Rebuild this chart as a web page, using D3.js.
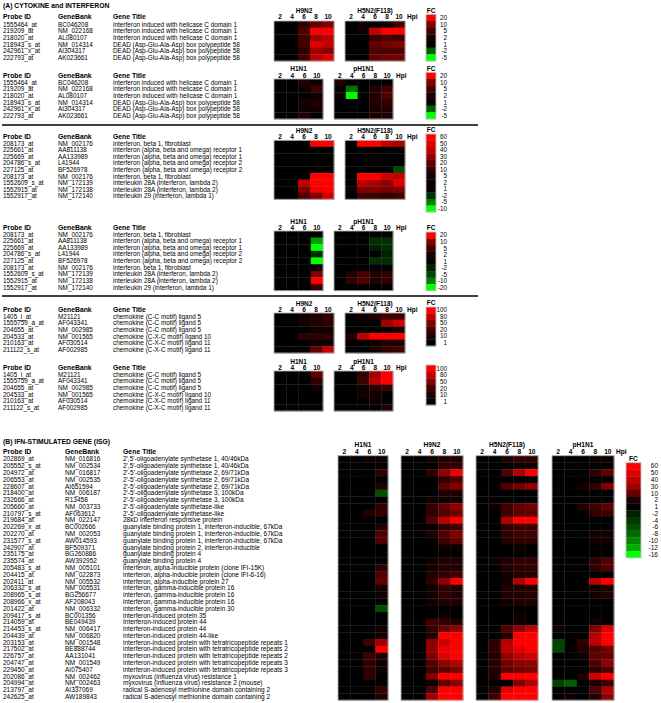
<!DOCTYPE html>
<html><head><meta charset="utf-8">
<script src="https://cdn.jsdelivr.net/npm/d3@7"></script>
<style>
body{margin:0;background:#fff}
svg{display:block}
text{font-family:"Liberation Sans",Arial,Helvetica,sans-serif;fill:#000}
</style>
</head><body>
<svg id="chart" width="661" height="703"></svg>
<script>
// ---------------- DATA ----------------
const hours5 = [2, 4, 6, 8, 10];
const hours4 = [2, 4, 6, 10];

// Block: helicase genes
const helProbes = ["1555464_at","219209_at","218020_at","218943_s_at","242961_x_at","222793_at"];
const helBanks  = ["BC046208","NM_022168","AL080107","NM_014314","AI304317","AK023661"];
const helTitles = ["interferon induced with helicase C domain 1","interferon induced with helicase C domain 1","Interferon induced with helicase C domain 1","DEAD (Asp-Glu-Ala-Asp) box polypeptide 58","DEAD (Asp-Glu-Ala-Asp) box polypeptide 58","DEAD (Asp-Glu-Ala-Asp) box polypeptide 58"];
const helH9N2 = [[1,1,3.8,7.5,10],[1,1,6.2,20,20],[1,1,5,12.5,15],[1,1,5,17.5,15],[1,1,3.8,12.5,11],[1,1,5,15,17.5]];
const helH5N2 = [[1,1.7,1,1.7,5],[1,1.7,15,20,20],[1,1,5,6.2,5],[1,1,7.5,8.8,10],[1,1,6.2,6.2,6.2],[1,1,7.5,8.8,8.8]];
const helH1N1 = [[1,1,2.6,1.7],[1,1,1.7,5],[1,1,1,1.7],[1,1,2,2.6],[1,1,1.7,1.7],[1,1,2.6,1]];
const helPH1N1 = [[2.6,1,1,1,1],[1,-2.3,1,2.6,5],[1.7,-5,1,2.6,6.2],[1,1,1,2.6,3.8],[1,1,1,2,2.6],[1,1,1,2,2.6]];
const legTicksHel = [20,10,5,2,1,-2,-5];

// Block: interferon genes
const ifnProbes = ["208173_at","225661_at","225669_at","204786_s_at","227125_at","208173_at","1552609_s_at","1552915_at","1552917_at"];
const ifnBanks  = ["NM_002176","AA811138","AA133989","L41944","BF526978","NM_002176","NM_172139","NM_172138","NM_172140"];
const ifnTitles = ["interferon, beta 1, fibroblast","interferon (alpha, beta and omega) receptor 1","interferon (alpha, beta and omega) receptor 1","interferon (alpha, beta and omega) receptor 2","Interferon (alpha, beta and omega) receptor 2","interferon, beta 1, fibroblast","interleukin 28A (interferon, lambda 2)","interleukin 28A (interferon, lambda 2)","interleukin 29 (interferon, lambda 1)"];
const ifnH9N2 = [[1,1,1,60,60],[1,1,1,1,1],[1,1,1,1,1],[1,1,1,1,1],[1,1,1,1,1],[1,1,1,60,60],[1,1,40,60,60],[1,1,27,55,60],[1,1,17,27,45]];
const ifnH5N2 = [[1,60,60,40,35],[1,1,1,1,1],[1,1,1,1,1],[1,1,1,1,1],[1,1,1,1,-3],[1,60,60,45,40],[1,40,35,30,50],[3,27,27,25,27],[1,13,13,10,13]];
const ifnH1N1 = [[1,1,1,1],[1,1,1,-12.5],[1,1,1,-20],[1,1,1,-3.5],[1,1,1,-20],[1,1,1,1],[1,1,1,10],[1,1,1,20],[1,1,1,5]];
const ifnPH1N1 = [[1,1,1,1,1],[1,1,1,-3.5,-3.5],[1,1,1,-2,-3.5],[1,1,1,1,-2],[1,1,1,-3.5,-3.5],[1,1,1,1,1],[1,2.8,5,2.8,3.9],[1,3.9,6.2,2.8,3.9],[1,1,1,1,1]];
const legTicksIfn1 = [60,50,40,30,20,10,5,2,1,-2,-5,-10];
const legTicksIfn2 = [20,10,5,2,1,-2,-5,-10,-20];

// Block: chemokines
const chemProbes = ["1405_i_at","1555759_a_at","204655_at","204533_at","210163_at","211122_s_at"];
const chemBanks  = ["M21121","AF043341","NM_002985","NM_001565","AF030514","AF002985"];
const chemTitles = ["chemokine (C-C motif) ligand 5","chemokine (C-C motif) ligand 5","chemokine (C-C motif) ligand 5","chemokine (C-X-C motif) ligand 10","chemokine (C-X-C motif) ligand 11","chemokine (C-X-C motif) ligand 11"];
const chemH9N2 = [[1,1,5.5,10,15],[1,1,5.5,10,15],[1,1,1,5.5,5.5],[1,1,15,15,15],[1,1,1,5.5,5.5],[1,1,1,35,80]];
const chemH5N2 = [[1,5.5,10,20,20],[1,1,1,65,85],[1,1,1,5.5,10],[10,80,100,100,100],[1,1,5.5,10,10],[1,1,5.5,15,20]];
const chemH1N1 = [[1,1,1,35],[1,1,1,15],[1,1,1,5.5],[1,1,1,1],[1,1,1,1],[1,1,1,1]];
const chemPH1N1 = [[1,1,15,65,100],[1,1,20,80,100],[1,1,5.5,15,20],[1,1,5.5,5.5,1],[1,1,1,5.5,1],[1,1,1,1,10]];
const legTicksChem = [100,80,50,20,10,1];

// Section B: ISG
const isgProbes = ["202869_at","205552_s_at","204972_at","206553_at","228607_at","218400_at","232666_at","205660_at","210797_s_at","219684_at","202269_x_at","202270_at","231577_s_at","242907_at","235175_at","235574_at","205483_s_at","204415_at","202411_at","206332_s_at","208965_s_at","208966_x_at","201422_at","209417_s_at","214059_at","214453_s_at","204439_at","203153_at","217502_at","226757_at","204747_at","229450_at","202086_at","204994_at","213797_at","242625_at"];
const isgBanks = ["NM_016816","NM_002534","NM_016817","NM_002535","AI651594","NM_006187","R13458","NM_003733","AF063612","NM_022147","BC002666","NM_002053","AW014593","BF509371","BG260886","AW392952","NM_005101","NM_022873","NM_005532","NM_005531","BG256677","AF208043","NM_006332","BC001356","BE049439","NM_006417","NM_006820","NM_001548","BE888744","AA131041","NM_001549","AI075407","NM_002462","NM_002463","AI337069","AW189843"];
const isgTitles = ["2',5'-oligoadenylate synthetase 1, 40/46kDa","2',5'-oligoadenylate synthetase 1, 40/46kDa","2'-5'-oligoadenylate synthetase 2, 69/71kDa","2'-5'-oligoadenylate synthetase 2, 69/71kDa","2'-5'-oligoadenylate synthetase 2, 69/71kDa","2'-5'-oligoadenylate synthetase 3, 100kDa","2'-5'-oligoadenylate synthetase 3, 100kDa","2'-5'-oligoadenylate synthetase-like","2'-5'-oligoadenylate synthetase-like","28kD interferon responsive protein","guanylate binding protein 1, interferon-inducible, 67kDa","guanylate binding protein 1, interferon-inducible, 67kDa","guanylate binding protein 1, interferon-inducible, 67kDa","guanylate binding protein 2, interferon-inducible","guanylate binding protein 4","guanylate binding protein 4","interferon, alpha-inducible protein (clone IFI-15K)","interferon, alpha-inducible protein (clone IFI-6-16)","interferon, alpha-inducible protein 27","interferon, gamma-inducible protein 16","interferon, gamma-inducible protein 16","interferon, gamma-inducible protein 16","interferon, gamma-inducible protein 30","interferon-induced protein 35","Interferon-induced protein 44","interferon-induced protein 44","interferon-induced protein 44-like","interferon-induced protein with tetratricopeptide repeats 1","interferon-induced protein with tetratricopeptide repeats 2","interferon-induced protein with tetratricopeptide repeats 2","interferon-induced protein with tetratricopeptide repeats 3","interferon-induced protein with tetratricopeptide repeats 3","myxovirus (influenza virus) resistance 1","myxovirus (influenza virus) resistance 2 (mouse)","radical S-adenosyl methionine domain containing 2","radical S-adenosyl methionine domain containing 2"];
const isgH1N1 = [[1,1,1.5,1.5],[1,1,1,1],[1,1,1,4],[1,1,1,1],[1,1,1,2],[1,1,1,-6],[1,1,1,1],[1,1,1,4],[1,1,2,4],[1,1,1,1],[1,1,1,2],[1,1,1,8],[1,1,1,8],[1,1,1,1],[1,1,1,1],[1,1,1,1],[1,1,1,4],[1,1,1,8],[1,1,1,10],[1,1,1,1.5],[1,1,1,1.5],[1,1,1,1],[1,1,1,-6],[1,1,1,1],[1,1,1,1],[1,1,1,1.5],[1,1,1,1.5],[1,1,6,30],[1,1,1,60],[1,1,6,2],[1,1,4,1.5],[1,1,4,1.5],[1,1,4,1],[1,1,1,1],[1,1,1,4],[1,1,1,2]];
const isgH9N2 = [[1,1,1.5,2,2],[1,1,1,4,4],[1,1,4,25,55],[1,1,1,4,8],[1,1,1,10,20],[1,1,1,2,2],[1,1,1.5,1.5,1.5],[1,1,4,10,25],[1,1,4,8,15],[1,1,8,40,60],[1,1,1,4,6],[1,1,2,8,20],[1,1,1,6,10],[1,1,1,1.5,1.5],[1,1,1,1,1],[1,1,1.5,2,2],[1,1,1.5,2,2],[1,1,2,4,6],[1,1,4,25,60],[1,1,1.5,4,2],[1,1,1.5,4,2],[1,1,1.5,2,2],[1,1,1,1,1],[1,1,1,1.5,1],[1,1,6,4,2],[1,1,4,15,25],[1,1,2,60,60],[1,1,25,45,60],[1,1,25,55,60],[1,1,20,50,60],[1,1,8,25,35],[1,1,6,10,20],[1,1,20,60,60],[1,1,1.5,10,25],[1,1,8,60,60],[1,1,30,60,60]];
const isgH5N2 = [[1,1,2,4,4],[1,1,1,1.5,1.5],[1,1,8,35,60],[1,1,1,1,1],[1,1,8,15,25],[1,1,1,1,1],[1,1,1,1,1],[1,1.5,6,10,15],[1,1,6,10,10],[1,1,35,60,60],[1,1,4,6,6],[1,1,4,6,6],[1,1,2,4,4],[1,1,1,1.5,1],[1,1,1,1,1],[1,1.5,2,4,4],[1,1,2,4,4],[1,1,1.5,2,2],[1,1,1.5,35,60],[1,1,2,2,2],[1,1,2,2,2],[1,1,1.5,2,2],[1,1,1,1,1],[1,1,1,1.5,1],[1,1,1,1.5,1],[1,1,8,25,40],[1,1,2,60,60],[1,4,35,60,60],[1,4,40,50,60],[1,2,25,40,45],[1,2,15,25,25],[1,2,10,15,20],[1,2,60,60,60],[1,1,1,20,35],[1,2,50,60,60],[1,6,60,60,60]];
const isgPH1N1 = [[1,1,1,1.5,1.5],[1,1,1,1,1],[1,1,1,4,10],[1,1,1,1,1],[1,1,1.5,4,20],[1,1,1,1,1],[1,1,1,1,1],[1,1,2,6,10],[1,1,1,4,6],[1,1,1,1,1],[1,1,1,1,1],[1,1,1,1.5,1.5],[1,1,1,1.5,1.5],[1,1,1,1,1],[1,1,1,1,1],[1,1,1,4,8],[1,1,1,4,8],[1,1,1,1,1],[1,1,1,40,60],[1,1,1,1.5,2],[1,1,1,1.5,2],[1,1,1,1,1],[1,1,1,1,1],[1,1,1,1,1],[1,1,1,1.5,1],[1.5,1,1,20,50],[1,1,1,35,60],[-5,1,4,40,60],[-5,1,2,8,15],[1,1,1.5,10,10],[1,1,1,8,25],[1,1,1,4,8],[1,1,2,45,60],[-5,-7,1,2,6],[1,1,1,8,35],[1,1.5,1,2,25]];
const legTicksIsg = [60,50,40,30,10,2,1,-2,-4,-6,-8,-10,-12,-16];

// ---------------- STYLE (legend colour ramps) ----------------
const rampHel  = ["#ff0000","#800000","#400000","#180000","#000000","#006000","#00ff00"];
const rampIfn1 = ["#ff0000","#e00000","#c00000","#900000","#600000","#300000","#180000","#080000","#000000","#003000","#008000","#00ff00"];
const rampIfn2 = ["#ff0000","#800000","#400000","#150000","#000000","#002000","#004000","#008000","#00ff00"];
const rampChem = ["#ff0000","#c00000","#800000","#400000","#200000","#000000"];
const rampIsg  = ["#ff0000","#e00000","#c00000","#a00000","#600000","#200000","#000000","#002000","#003800","#005000","#006a00","#008800","#00aa00","#00ff00"];

function colorScale(ticks, ramp) {
  const d = ticks.slice().reverse(), r = ramp.slice().reverse();
  return d3.scaleLinear().domain(d).range(r).clamp(true).interpolate(d3.interpolateRgb);
}

const svg = d3.select("#chart");

function txt(g, x, y, s, size, bold, anchor) {
  return g.append("text").attr("x", x).attr("y", y).attr("dy", "0.35em")
    .attr("font-size", size).attr("font-weight", bold ? "bold" : "normal")
    .attr("text-anchor", anchor || "start").text(s);
}

function drawBlock(cfg) {
  const g = svg.append("g");
  const n = cfg.probes.length;
  const yRow = d3.scaleBand().domain(d3.range(n)).range([cfg.rowTop, cfg.rowTop + n * cfg.rowH]);
  const cols = cfg.textX;
  txt(g, cols[0], cfg.headerY, "Probe ID", cfg.fs + 0.4, true);
  txt(g, cols[1], cfg.headerY, "GeneBank", cfg.fs + 0.4, true);
  txt(g, cols[2], cfg.headerY, "Gene Title", cfg.fs + 0.4, true);
  d3.range(n).forEach(i => {
    const yc = yRow(i) + yRow.bandwidth() / 2;
    txt(g, cols[0], yc, cfg.probes[i], cfg.fs, false);
    txt(g, cols[1], yc, cfg.banks[i], cfg.fs, false);
    txt(g, cols[2], yc, cfg.titles[i], cfg.fs, false);
  });
  const color = colorScale(cfg.ticks, cfg.ramp);
  cfg.panels.forEach(p => {
    const xCol = d3.scaleBand().domain(p.hours).range([p.x, p.x + p.w]);
    txt(g, p.x + p.w / 2, cfg.strainY, p.name, cfg.hfs, true, "middle");
    p.hours.forEach(h => txt(g, xCol(h) + xCol.bandwidth() / 2, cfg.headerY, String(h), cfg.hfs, true, "middle"));
    const cells = [];
    p.values.forEach((row, i) => row.forEach((v, j) => cells.push({i, h: p.hours[j], v})));
    g.append("g").selectAll("rect").data(cells).join("rect")
      .attr("x", d => xCol(d.h)).attr("y", d => yRow(d.i))
      .attr("width", xCol.bandwidth() + 0.3).attr("height", yRow.bandwidth() + 0.3)
      .attr("fill", d => color(d.v));
    g.append("rect").attr("x", p.x).attr("y", cfg.rowTop).attr("width", p.w).attr("height", n * cfg.rowH)
      .attr("fill", "none").attr("stroke", "#b0b0b0").attr("stroke-width", 0.9);
  });
  txt(g, cfg.hpiX, cfg.headerY, "Hpi", cfg.hfs, true);
  const L = cfg.legend;
  const yLeg = d3.scaleBand().domain(cfg.ticks.map(String)).range([L.top, L.top + cfg.ticks.length * L.cellH]);
  g.append("g").selectAll("rect").data(cfg.ticks).join("rect")
    .attr("x", L.x).attr("y", d => yLeg(String(d))).attr("width", L.w).attr("height", yLeg.bandwidth() + 0.3)
    .attr("fill", d => color(d));
  g.append("rect").attr("x", L.x).attr("y", L.top).attr("width", L.w).attr("height", cfg.ticks.length * L.cellH)
    .attr("fill", "none").attr("stroke", "#c0c0c0").attr("stroke-width", 0.9);
  cfg.ticks.forEach(t => txt(g, L.labelX, yLeg(String(t)) + yLeg.bandwidth() / 2, String(t), L.fs, false, "end"));
  if (L.fcY != null) txt(g, L.x + L.w / 2, L.fcY, "FC", cfg.hfs, true, "middle");
}

const colA = [3, 58, 113];
const legA = (top, cellH, fcY) => ({x: 426, w: 10, top, cellH, fcY, labelX: 447, fs: 6.3});

txt(svg, 3, 5.8, "(A)  CYTOKINE and INTERFERON", 6.8, true);

drawBlock({textX: colA, fs: 6.4, hfs: 6.5, probes: helProbes, banks: helBanks, titles: helTitles,
  rowTop: 21, rowH: 6.67, headerY: 16.3, strainY: 10.5, hpiX: 407, ticks: legTicksHel, ramp: rampHel,
  panels: [{name: "H9N2", hours: hours5, values: helH9N2, x: 274, w: 60}, {name: "H5N2(F118)", hours: hours5, values: helH5N2, x: 345, w: 60}],
  legend: legA(14.3, 6.67, 10.5)});

drawBlock({textX: colA, fs: 6.4, hfs: 6.5, probes: helProbes, banks: helBanks, titles: helTitles,
  rowTop: 79, rowH: 6.67, headerY: 75.5, strainY: 69, hpiX: 396, ticks: legTicksHel, ramp: rampHel,
  panels: [{name: "H1N1", hours: hours4, values: helH1N1, x: 274, w: 49}, {name: "pH1N1", hours: hours5, values: helPH1N1, x: 334, w: 59}],
  legend: legA(72.3, 6.67, 68.5)});

svg.append("line").attr("x1", 2).attr("x2", 478).attr("y1", 125).attr("y2", 125).attr("stroke", "#000").attr("stroke-width", 1.6);

drawBlock({textX: colA, fs: 6.4, hfs: 6.5, probes: ifnProbes, banks: ifnBanks, titles: ifnTitles,
  rowTop: 140.3, rowH: 6.55, headerY: 136.5, strainY: 130.5, hpiX: 407, ticks: legTicksIfn1, ramp: rampIfn1,
  panels: [{name: "H9N2", hours: hours5, values: ifnH9N2, x: 274, w: 60}, {name: "H5N2(F118)", hours: hours5, values: ifnH5N2, x: 345, w: 60}],
  legend: legA(134, 6.5, 129.5)});

drawBlock({textX: colA, fs: 6.4, hfs: 6.5, probes: ifnProbes, banks: ifnBanks, titles: ifnTitles,
  rowTop: 231, rowH: 6.63, headerY: 227.5, strainY: 221.5, hpiX: 396, ticks: legTicksIfn2, ramp: rampIfn2,
  panels: [{name: "H1N1", hours: hours4, values: ifnH1N1, x: 274, w: 49}, {name: "pH1N1", hours: hours5, values: ifnPH1N1, x: 334, w: 59}],
  legend: legA(232, 6.52, 227.5)});

svg.append("line").attr("x1", 2).attr("x2", 478).attr("y1", 296).attr("y2", 296).attr("stroke", "#000").attr("stroke-width", 1.6);

drawBlock({textX: colA, fs: 6.4, hfs: 6.5, probes: chemProbes, banks: chemBanks, titles: chemTitles,
  rowTop: 313, rowH: 6.67, headerY: 309.5, strainY: 303.5, hpiX: 407, ticks: legTicksChem, ramp: rampChem,
  panels: [{name: "H9N2", hours: hours5, values: chemH9N2, x: 274, w: 60}, {name: "H5N2(F118)", hours: hours5, values: chemH5N2, x: 345, w: 60}],
  legend: legA(307, 6.5, 302.5)});

drawBlock({textX: colA, fs: 6.4, hfs: 6.5, probes: chemProbes, banks: chemBanks, titles: chemTitles,
  rowTop: 371, rowH: 6.67, headerY: 368, strainY: 361.5, hpiX: 396, ticks: legTicksChem, ramp: rampChem,
  panels: [{name: "H1N1", hours: hours4, values: chemH1N1, x: 274, w: 49}, {name: "pH1N1", hours: hours5, values: chemPH1N1, x: 334, w: 59}],
  legend: legA(365, 6.67, null)});

txt(svg, 3, 441.7, "(B)  IFN-STIMULATED GENE (ISG)", 6.8, true);
drawBlock({textX: [3, 65, 123], fs: 6.5, hfs: 6.6, probes: isgProbes, banks: isgBanks, titles: isgTitles,
  rowTop: 455.7, rowH: 6.79, headerY: 452, strainY: 445, hpiX: 616, ticks: legTicksIsg, ramp: rampIsg,
  panels: [{name: "H1N1", hours: hours4, values: isgH1N1, x: 338, w: 50},
           {name: "H9N2", hours: hours5, values: isgH9N2, x: 401, w: 62},
           {name: "H5N2(F118)", hours: hours5, values: isgH5N2, x: 476, w: 62},
           {name: "pH1N1", hours: hours5, values: isgPH1N1, x: 552, w: 62}],
  legend: {x: 626, w: 15, top: 462.7, cellH: 6.79, fcY: 459, labelX: 658, fs: 6.5}});
</script>
</body></html>
